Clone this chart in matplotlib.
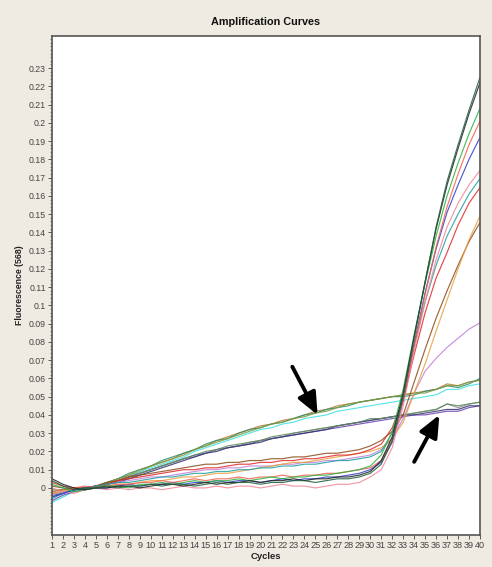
import matplotlib
matplotlib.use("Agg")
import matplotlib.pyplot as plt
from matplotlib.ticker import MultipleLocator, FuncFormatter

plt.rcParams['font.family'] = ['Liberation Sans', 'DejaVu Sans']

cycles = list(range(1, 41))

# Sigmoid (amplifying) curves
s1 = [0.004, 0.001, -0.001, 0.000, 0.000, 0.001, 0.000, 0.001, 0.001, 0.002, 0.001, 0.002, 0.002, 0.001, 0.002, 0.003, 0.002, 0.003, 0.003, 0.002, 0.003, 0.003, 0.004, 0.004, 0.003, 0.004, 0.005, 0.005, 0.006, 0.008, 0.013, 0.026, 0.050, 0.082, 0.113, 0.143, 0.168, 0.188, 0.207, 0.225]
s2 = [0.005, 0.002, 0.000, -0.001, 0.000, 0.000, 0.001, 0.001, 0.000, 0.001, 0.002, 0.002, 0.001, 0.002, 0.003, 0.002, 0.003, 0.003, 0.004, 0.003, 0.004, 0.004, 0.005, 0.004, 0.005, 0.005, 0.006, 0.006, 0.007, 0.009, 0.015, 0.028, 0.052, 0.083, 0.113, 0.142, 0.166, 0.186, 0.205, 0.222]
s3 = [0.002, 0.000, -0.002, -0.001, 0.000, 0.001, 0.001, 0.000, 0.002, 0.002, 0.003, 0.002, 0.003, 0.004, 0.003, 0.004, 0.004, 0.005, 0.004, 0.005, 0.006, 0.005, 0.006, 0.006, 0.007, 0.007, 0.008, 0.009, 0.010, 0.012, 0.018, 0.031, 0.054, 0.084, 0.112, 0.138, 0.160, 0.178, 0.194, 0.208]
s4 = [-0.002, -0.001, 0.000, 0.001, 0.000, 0.001, 0.002, 0.002, 0.003, 0.003, 0.004, 0.003, 0.004, 0.005, 0.004, 0.005, 0.005, 0.006, 0.005, 0.006, 0.006, 0.007, 0.006, 0.007, 0.007, 0.008, 0.008, 0.009, 0.010, 0.011, 0.015, 0.026, 0.048, 0.078, 0.106, 0.132, 0.154, 0.172, 0.188, 0.201]
s5 = [-0.005, -0.003, -0.001, 0.000, 0.000, 0.000, 0.001, 0.002, 0.001, 0.002, 0.002, 0.003, 0.002, 0.003, 0.003, 0.004, 0.003, 0.004, 0.004, 0.003, 0.004, 0.005, 0.004, 0.005, 0.005, 0.006, 0.006, 0.007, 0.008, 0.010, 0.014, 0.025, 0.048, 0.079, 0.107, 0.131, 0.151, 0.166, 0.180, 0.192]
s6 = [0.000, -0.002, -0.003, -0.001, 0.000, -0.001, 0.000, -0.001, 0.000, 0.000, -0.001, 0.000, 0.001, 0.000, 0.000, 0.001, 0.000, 0.001, 0.001, 0.000, 0.001, 0.002, 0.001, 0.001, 0.000, 0.001, 0.002, 0.002, 0.003, 0.006, 0.010, 0.022, 0.045, 0.075, 0.102, 0.125, 0.143, 0.156, 0.166, 0.174]
s7 = [-0.006, -0.003, -0.001, 0.000, 0.001, 0.002, 0.003, 0.003, 0.004, 0.005, 0.006, 0.006, 0.007, 0.008, 0.008, 0.009, 0.009, 0.010, 0.010, 0.011, 0.011, 0.012, 0.012, 0.013, 0.013, 0.014, 0.015, 0.015, 0.016, 0.017, 0.020, 0.030, 0.050, 0.078, 0.102, 0.122, 0.138, 0.150, 0.161, 0.1695]
s8 = [0.003, 0.001, 0.000, 0.000, 0.001, 0.002, 0.004, 0.005, 0.006, 0.007, 0.008, 0.009, 0.010, 0.010, 0.011, 0.011, 0.012, 0.013, 0.013, 0.014, 0.014, 0.015, 0.015, 0.016, 0.016, 0.017, 0.018, 0.018, 0.019, 0.021, 0.024, 0.033, 0.048, 0.073, 0.096, 0.115, 0.129, 0.144, 0.156, 0.1646]
s9 = [-0.003, -0.002, 0.000, 0.000, 0.000, 0.001, 0.002, 0.002, 0.003, 0.004, 0.004, 0.005, 0.006, 0.006, 0.007, 0.008, 0.008, 0.009, 0.010, 0.011, 0.012, 0.013, 0.014, 0.014, 0.015, 0.016, 0.017, 0.018, 0.019, 0.020, 0.022, 0.027, 0.036, 0.052, 0.068, 0.086, 0.103, 0.120, 0.136, 0.149]
s10 = [0.001, 0.000, -0.001, 0.000, 0.001, 0.003, 0.004, 0.006, 0.007, 0.008, 0.009, 0.010, 0.011, 0.012, 0.013, 0.013, 0.014, 0.014, 0.015, 0.015, 0.016, 0.016, 0.017, 0.017, 0.018, 0.019, 0.019, 0.020, 0.021, 0.023, 0.026, 0.031, 0.040, 0.058, 0.076, 0.093, 0.108, 0.122, 0.135, 0.1455]
s11 = [-0.004, -0.002, -0.001, 0.000, 0.001, 0.002, 0.003, 0.004, 0.005, 0.006, 0.006, 0.007, 0.008, 0.009, 0.010, 0.010, 0.011, 0.011, 0.012, 0.012, 0.012, 0.013, 0.013, 0.014, 0.014, 0.015, 0.015, 0.016, 0.017, 0.018, 0.021, 0.027, 0.038, 0.052, 0.064, 0.071, 0.077, 0.082, 0.087, 0.0905]

# Upper linear group (first arrow)
l1 = [-0.003, -0.002, -0.001, 0.000, 0.001, 0.003, 0.005, 0.007, 0.009, 0.012, 0.014, 0.016, 0.019, 0.021, 0.023, 0.026, 0.028, 0.030, 0.032, 0.034, 0.035, 0.037, 0.038, 0.040, 0.042, 0.043, 0.045, 0.046, 0.047, 0.048, 0.049, 0.050, 0.051, 0.052, 0.053, 0.054, 0.057, 0.056, 0.058, 0.059]
l2 = [-0.005, -0.003, -0.001, 0.000, 0.001, 0.003, 0.005, 0.008, 0.010, 0.012, 0.015, 0.017, 0.019, 0.021, 0.024, 0.026, 0.027, 0.030, 0.032, 0.033, 0.035, 0.036, 0.038, 0.040, 0.041, 0.043, 0.044, 0.045, 0.047, 0.048, 0.049, 0.050, 0.050, 0.051, 0.053, 0.054, 0.056, 0.055, 0.057, 0.060]
l3 = [-0.008, -0.005, -0.002, -0.001, 0.001, 0.002, 0.004, 0.006, 0.009, 0.011, 0.013, 0.015, 0.017, 0.020, 0.022, 0.024, 0.026, 0.028, 0.030, 0.032, 0.033, 0.035, 0.036, 0.038, 0.039, 0.040, 0.042, 0.043, 0.044, 0.045, 0.046, 0.047, 0.048, 0.049, 0.050, 0.051, 0.054, 0.054, 0.056, 0.057]
l4 = [-0.001, -0.001, 0.000, 0.000, 0.001, 0.003, 0.005, 0.007, 0.010, 0.012, 0.014, 0.016, 0.018, 0.021, 0.023, 0.025, 0.027, 0.029, 0.031, 0.033, 0.035, 0.036, 0.038, 0.039, 0.041, 0.042, 0.044, 0.046, 0.047, 0.048, 0.049, 0.050, 0.051, 0.052, 0.052, 0.054, 0.056, 0.056, 0.058, 0.059]

# Lower linear group (second arrow)
l5 = [-0.007, -0.004, -0.002, -0.001, 0.000, 0.002, 0.004, 0.006, 0.008, 0.010, 0.012, 0.014, 0.016, 0.018, 0.019, 0.021, 0.022, 0.023, 0.024, 0.026, 0.027, 0.028, 0.029, 0.030, 0.031, 0.032, 0.033, 0.034, 0.035, 0.036, 0.037, 0.038, 0.039, 0.040, 0.040, 0.041, 0.042, 0.042, 0.044, 0.045]
l6 = [-0.003, -0.002, -0.001, 0.000, 0.001, 0.002, 0.004, 0.006, 0.008, 0.010, 0.012, 0.014, 0.016, 0.017, 0.019, 0.021, 0.022, 0.023, 0.025, 0.026, 0.027, 0.028, 0.030, 0.031, 0.032, 0.033, 0.034, 0.035, 0.036, 0.037, 0.038, 0.039, 0.040, 0.041, 0.042, 0.043, 0.046, 0.044, 0.046, 0.047]
l7 = [-0.004, -0.003, -0.001, 0.000, 0.000, 0.002, 0.003, 0.005, 0.007, 0.009, 0.011, 0.013, 0.015, 0.017, 0.019, 0.020, 0.022, 0.023, 0.024, 0.025, 0.027, 0.028, 0.029, 0.030, 0.031, 0.032, 0.034, 0.035, 0.036, 0.037, 0.038, 0.039, 0.040, 0.040, 0.041, 0.042, 0.043, 0.043, 0.045, 0.045]
l8 = [-0.002, -0.001, 0.000, 0.000, 0.001, 0.002, 0.004, 0.006, 0.008, 0.010, 0.012, 0.014, 0.016, 0.018, 0.020, 0.021, 0.023, 0.024, 0.025, 0.026, 0.028, 0.029, 0.030, 0.031, 0.032, 0.033, 0.034, 0.035, 0.036, 0.038, 0.038, 0.039, 0.040, 0.041, 0.042, 0.043, 0.046, 0.045, 0.046, 0.047]

series = [
    (l1, '#B87A3A'), (l2, '#2E8B6A'), (l3, '#3FE0E0'), (l4, '#7A9A3A'),
    (l5, '#6A40B0'), (l6, '#8A8A8A'), (l7, '#303070'), (l8, '#5A8A5A'),
    (s11, '#C080D8'), (s10, '#8B4A1A'), (s9, '#E8A040'), (s8, '#E02828'),
    (s7, '#20A0A0'), (s6, '#F08898'), (s5, '#3040C8'), (s4, '#F06050'),
    (s3, '#30B040'), (s2, '#202020'), (s1, '#1E5E3A'),
]

ytick_vals = [i / 100 for i in range(0, 24)]
xtick_vals = cycles

bg = '#EFEBE2'
fig = plt.figure(figsize=(4.92, 5.67), dpi=100, facecolor=bg)
ax = fig.add_axes([0.1057, 0.0564, 0.8699, 0.8801])
ax.set_facecolor('white')

for vals, col in series:
    ax.plot(cycles, vals, color=col, lw=0.85, alpha=0.85)

ax.set_xlim(1, 40)
ax.set_ylim(-0.0258, 0.2476)
ax.set_xticks(xtick_vals)
ax.set_xticklabels([str(c) for c in xtick_vals])
ax.set_yticks(ytick_vals)
ax.yaxis.set_major_formatter(FuncFormatter(lambda v, p: '{:g}'.format(round(v, 2))))
ax.yaxis.set_minor_locator(MultipleLocator(0.002))
ax.tick_params(axis='y', which='major', labelsize=6.3, colors='#444444',
               length=3, width=0.6, pad=1.5, direction='out')
ax.tick_params(axis='x', which='major', labelsize=6.6, colors='#444444',
               length=3, width=0.6, pad=1.5, direction='out')
ax.tick_params(axis='y', which='minor', length=1.5, width=0.5, color='#666666')
for sp in ax.spines.values():
    sp.set_color('#555555')
    sp.set_linewidth(1.2)

ax.set_title('Amplification Curves', fontsize=7.8, fontweight='bold', pad=8, color='#111111')
ax.set_xlabel('Cycles', fontsize=6.8, fontweight='bold', labelpad=1, color='#222222')
ax.set_ylabel('Fluorescence (568)', fontsize=6.3, fontweight='bold', labelpad=3, color='#222222')

arrow = dict(arrowstyle='-|>,head_length=0.55,head_width=0.24', lw=2.8, color='black',
             mutation_scale=24, shrinkA=0, shrinkB=0)
ax.annotate('', xy=(25.2, 0.0400), xytext=(22.9, 0.0664), arrowprops=arrow)
ax.annotate('', xy=(36.3, 0.0400), xytext=(34.0, 0.0143), arrowprops=arrow)

fig.savefig('out.png', dpi=100, facecolor=bg)
